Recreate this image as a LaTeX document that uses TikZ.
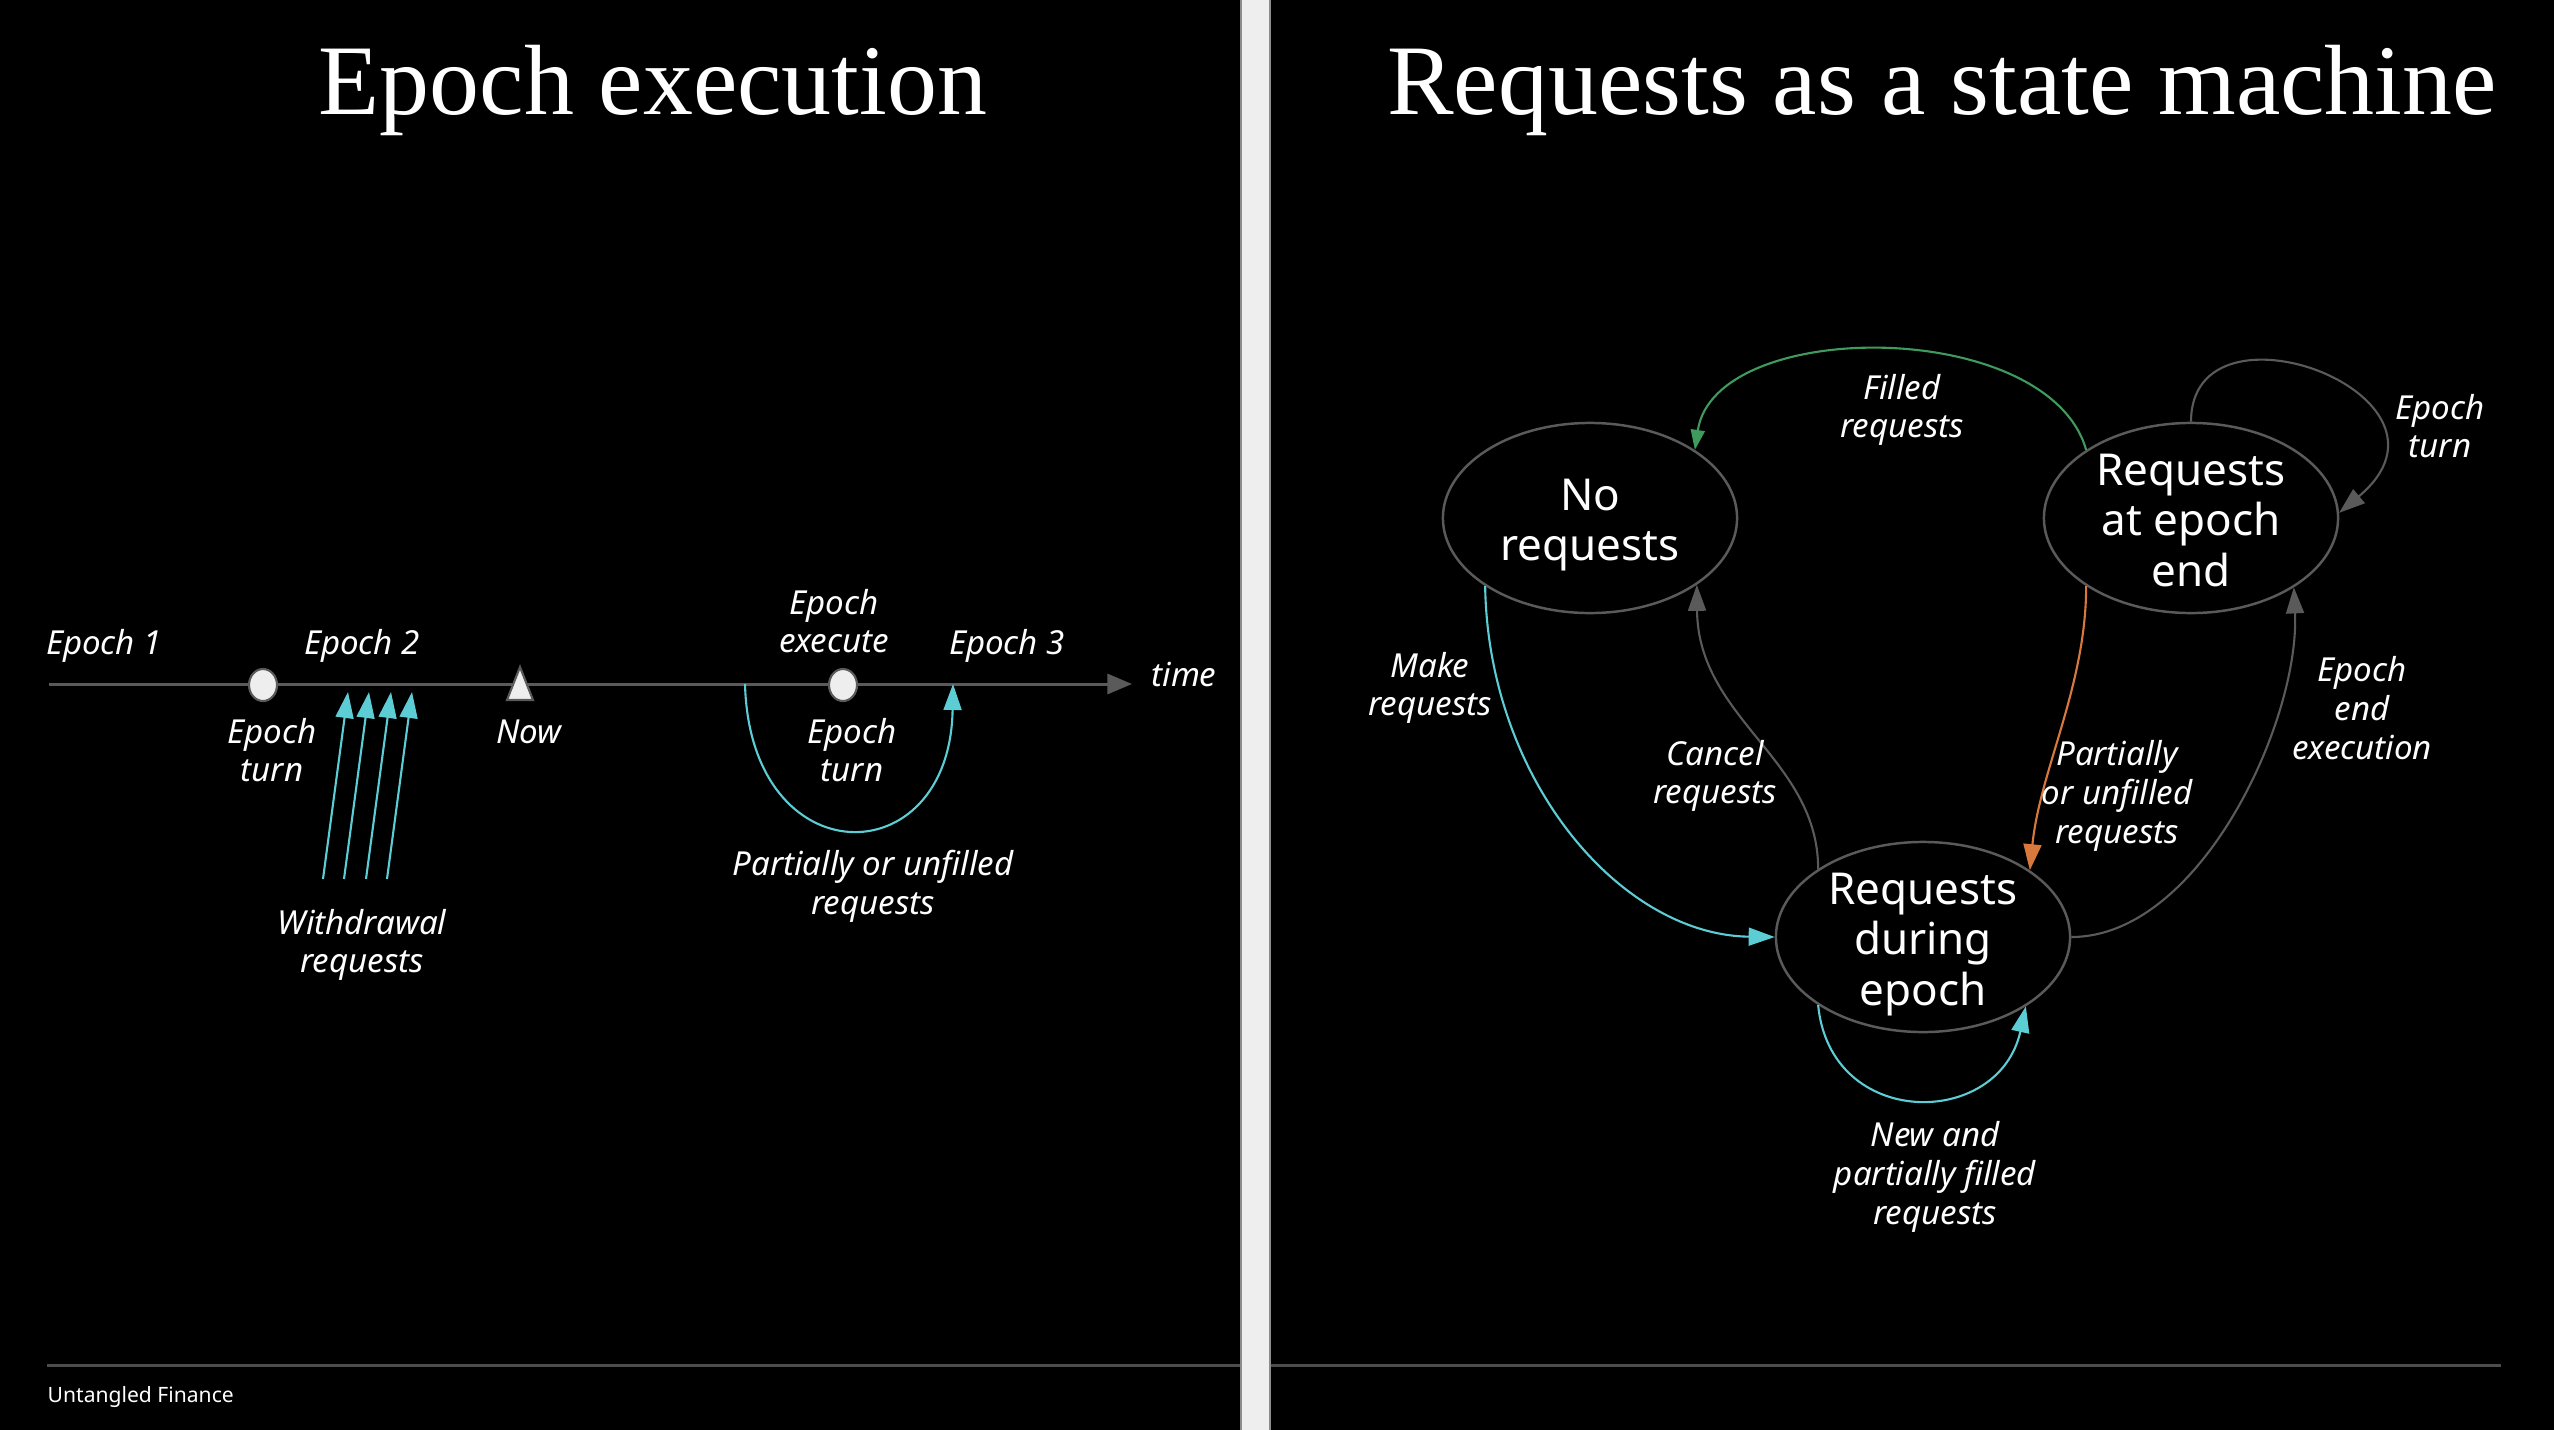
\documentclass[tikz,border=0pt]{standalone}
\usepackage{fontspec}
\setmainfont{Liberation Serif}
\newfontfamily\labfont{Noto Sans}
\usetikzlibrary{arrows.meta,shapes.geometric}
\definecolor{lgrey}{HTML}{5A5A5A}
\definecolor{cyanc}{HTML}{5CCDD5}
\definecolor{greenc}{HTML}{3F9A5E}
\definecolor{orangec}{HTML}{D9783C}
\definecolor{stripc}{HTML}{EEEEEE}
\definecolor{stripedge}{HTML}{8C8C8C}
\newcommand{\stxt}[1]{\raisebox{-5.2pt}[0pt][0pt]{\begin{tabular}{@{}c@{}}#1\end{tabular}}}
\begin{document}
\begin{tikzpicture}[x=0.01cm,y=-0.01cm,
  title/.style={text=white,font=\fontsize{28.4}{32}\selectfont,anchor=base,inner sep=0pt},
  lab/.style={text=white,font=\labfont\itshape\fontsize{9.4}{11}\selectfont,align=center,inner sep=0pt},
  state/.style={ellipse,draw=lgrey,line width=0.7pt,minimum width=2.94cm,minimum height=1.9cm,inner sep=0pt,text=white,font=\labfont\fontsize{12.5}{14.3}\selectfont},
  tickmark/.style={ellipse,draw=lgrey,fill=stripc,line width=0.6pt,minimum width=0.28cm,minimum height=0.32cm,inner sep=0pt},
  conn/.style={line width=0.6pt,-{Triangle[length=7.4pt,width=5.1pt]}},
  smallconn/.style={line width=0.6pt,-{Triangle[length=5.7pt,width=4pt]}},
]
\useasboundingbox (0,0) rectangle (2554,1430);
\fill[black] (0,0) rectangle (2554,1430);

% footer line
\coordinate (fl1) at (47,1365);
\coordinate (fl2) at (2501,1365);
\draw[lgrey!85!black,line width=0.85pt] (fl1) -- (fl2);
\node[anchor=west,inner sep=0pt,text=white,font=\labfont\fontsize{6}{7}\selectfont] (footer) at (47,1397) {Untangled Finance};

% separator strip
\fill[stripc] (1241,0) rectangle (1270,1430);
\draw[stripedge,line width=0.4pt] (1241,0) -- (1241,1430) (1270,0) -- (1270,1430);

% titles
\node[title] (t1) at (653,114) {Epoch execution};
\node[title] (t2) at (1942,114) {Requests as a state machine};

% ---------- timeline ----------
\coordinate (ts) at (49,684);
\coordinate (te) at (1132,684);
\draw[lgrey,line width=0.85pt,-{Triangle[length=7pt,width=5.7pt]}] (ts) -- (te);

\coordinate (u1) at (745,684);
\coordinate (u2) at (953,684);
\draw[cyanc,conn] (u1) .. controls +(5,193) and +(-3,193) .. (u2);

\node[tickmark] (tk1) at (263,685) {};
\node[tickmark] (tk2) at (843,685) {};
\coordinate (now) at (520,684);
\filldraw[fill=stripc,draw=lgrey,line width=0.6pt] (now) ++(0,-17) -- ++(13,33) -- ++(-26,0) -- cycle;

% withdrawal arrows
\foreach \i/\dx in {1/0,2/21,3/43,4/64}{
  \coordinate (ws\i) at (323+\dx,879);
  \coordinate (we\i) at (348+\dx,692);
  \draw[cyanc,conn] (ws\i) -- (we\i);
}

% timeline labels
\node[lab] (lE1) at (104,646) {Epoch 1};
\node[lab] (lE2) at (362,646) {Epoch 2};
\node[lab] (lEx) at (834,621) {Epoch\\execute};
\node[lab] (lE3) at (1007,646) {Epoch 3};
\node[lab] (ltime) at (1184,674) {time};
\node[lab] (lT1) at (272,750) {Epoch\\turn};
\node[lab] (lnow) at (529,732) {Now};
\node[lab] (lT2) at (852,750) {Epoch\\turn};
\node[lab] (lW) at (362,945) {Withdrawal\\requests};
\node[lab] (lP) at (873,886) {Partially or unfilled\\requests};

% ---------- state machine ----------
\node[state] (nr) at (1590,518) {\stxt{No\\requests}};
\node[state] (re) at (2191,518) {\stxt{Requests\\at epoch\\end}};
\node[state] (rd) at (1923,937) {\stxt{Requests\\during\\epoch}};

\draw[greenc,smallconn] (re.147) .. controls +(-38,-133) and +(20,-133) .. (nr.33);
\draw[lgrey,conn] (re.90) .. controls +(0,-133) and +(140,-117) .. (re.2);
\draw[cyanc,conn] (nr.213) .. controls +(3,194) and +(-154,-2) .. (rd.180);
\draw[lgrey,conn] (rd.147) .. controls +(0,-110) and +(1,134) .. (nr.-32);
\draw[orangec,conn] (re.213) .. controls +(0,100) and +(10,-100) .. (rd.32.5);
\draw[lgrey,conn] (rd.0) .. controls +(129,0) and +(6,133) .. (re.-34);
\draw[cyanc,conn] (rd.213) .. controls +(12,125) and +(-27,123) .. (rd.-34);

\node[lab] (lF) at (1902,410) {Filled\\requests};
\node[lab] (lET) at (2440,426) {Epoch\\turn};
\node[lab] (lM) at (1430,688) {Make\\requests};
\node[lab] (lC) at (1715,776) {Cancel\\requests};
\node[lab] (lPU) at (2117,796) {Partially\\or unfilled\\requests};
\node[lab] (lEE) at (2362,708) {Epoch\\end\\execution};
\node[lab] (lN) at (1935,1177) {New and\\partially filled\\requests};
\end{tikzpicture}
\end{document}
